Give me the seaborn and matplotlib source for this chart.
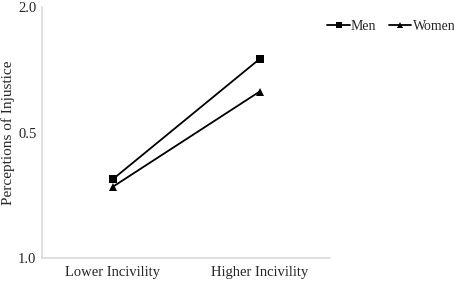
import matplotlib
matplotlib.use("Agg")
import matplotlib.pyplot as plt
import seaborn as sns
import pandas as pd

# Data
conditions = ["Lower Incivility", "Higher Incivility"]
men = [-0.06, 1.38]
women = [-0.15, 0.99]
y_ticks = [-1.0, 0.5, 2.0]
y_tick_labels = ["1.0", "0.5", "2.0"]

df = pd.DataFrame({
    "condition": conditions * 2,
    "value": men + women,
    "group": ["Men"] * 2 + ["Women"] * 2,
})

sns.set_style("white")
plt.rcParams["font.family"] = ["Liberation Serif", "DejaVu Serif"]

fig = plt.figure(figsize=(4.54, 2.82), dpi=100)
ax = fig.add_axes([0.0925, 0.085, 0.635, 0.89])

sns.lineplot(data=df, x="condition", y="value", style="group",
             markers=["s", "^"], dashes=False, color="black",
             markersize=5.6, linewidth=1.3, markeredgewidth=0, ax=ax)

ax.set_xlim(-0.48, 1.48)
ax.set_ylim(-1.0, 2.0)
ax.set_yticks(y_ticks)
ax.set_yticklabels(y_tick_labels)
ax.set_xlabel("")
ax.set_ylabel("Perceptions of Injustice", fontsize=11)
ax.yaxis.set_label_coords(-0.094, 0.5)
ax.tick_params(axis="y", length=3, color="#d9d9d9", labelsize=10.5, pad=1)
ax.tick_params(axis="x", length=0, labelsize=10.5, pad=6)

for side in ["top", "right"]:
    ax.spines[side].set_visible(False)
for side in ["left", "bottom"]:
    ax.spines[side].set_color("#d9d9d9")
    ax.spines[side].set_linewidth(1.2)

leg = ax.legend(loc="center left", bbox_to_anchor=(0.99, 0.924), ncol=2,
                frameon=False, fontsize=10, handlelength=1.6,
                handletextpad=0.1, columnspacing=0.9, borderaxespad=0,
                borderpad=0, markerscale=0.8)

fig.savefig("out.png", dpi=100)
